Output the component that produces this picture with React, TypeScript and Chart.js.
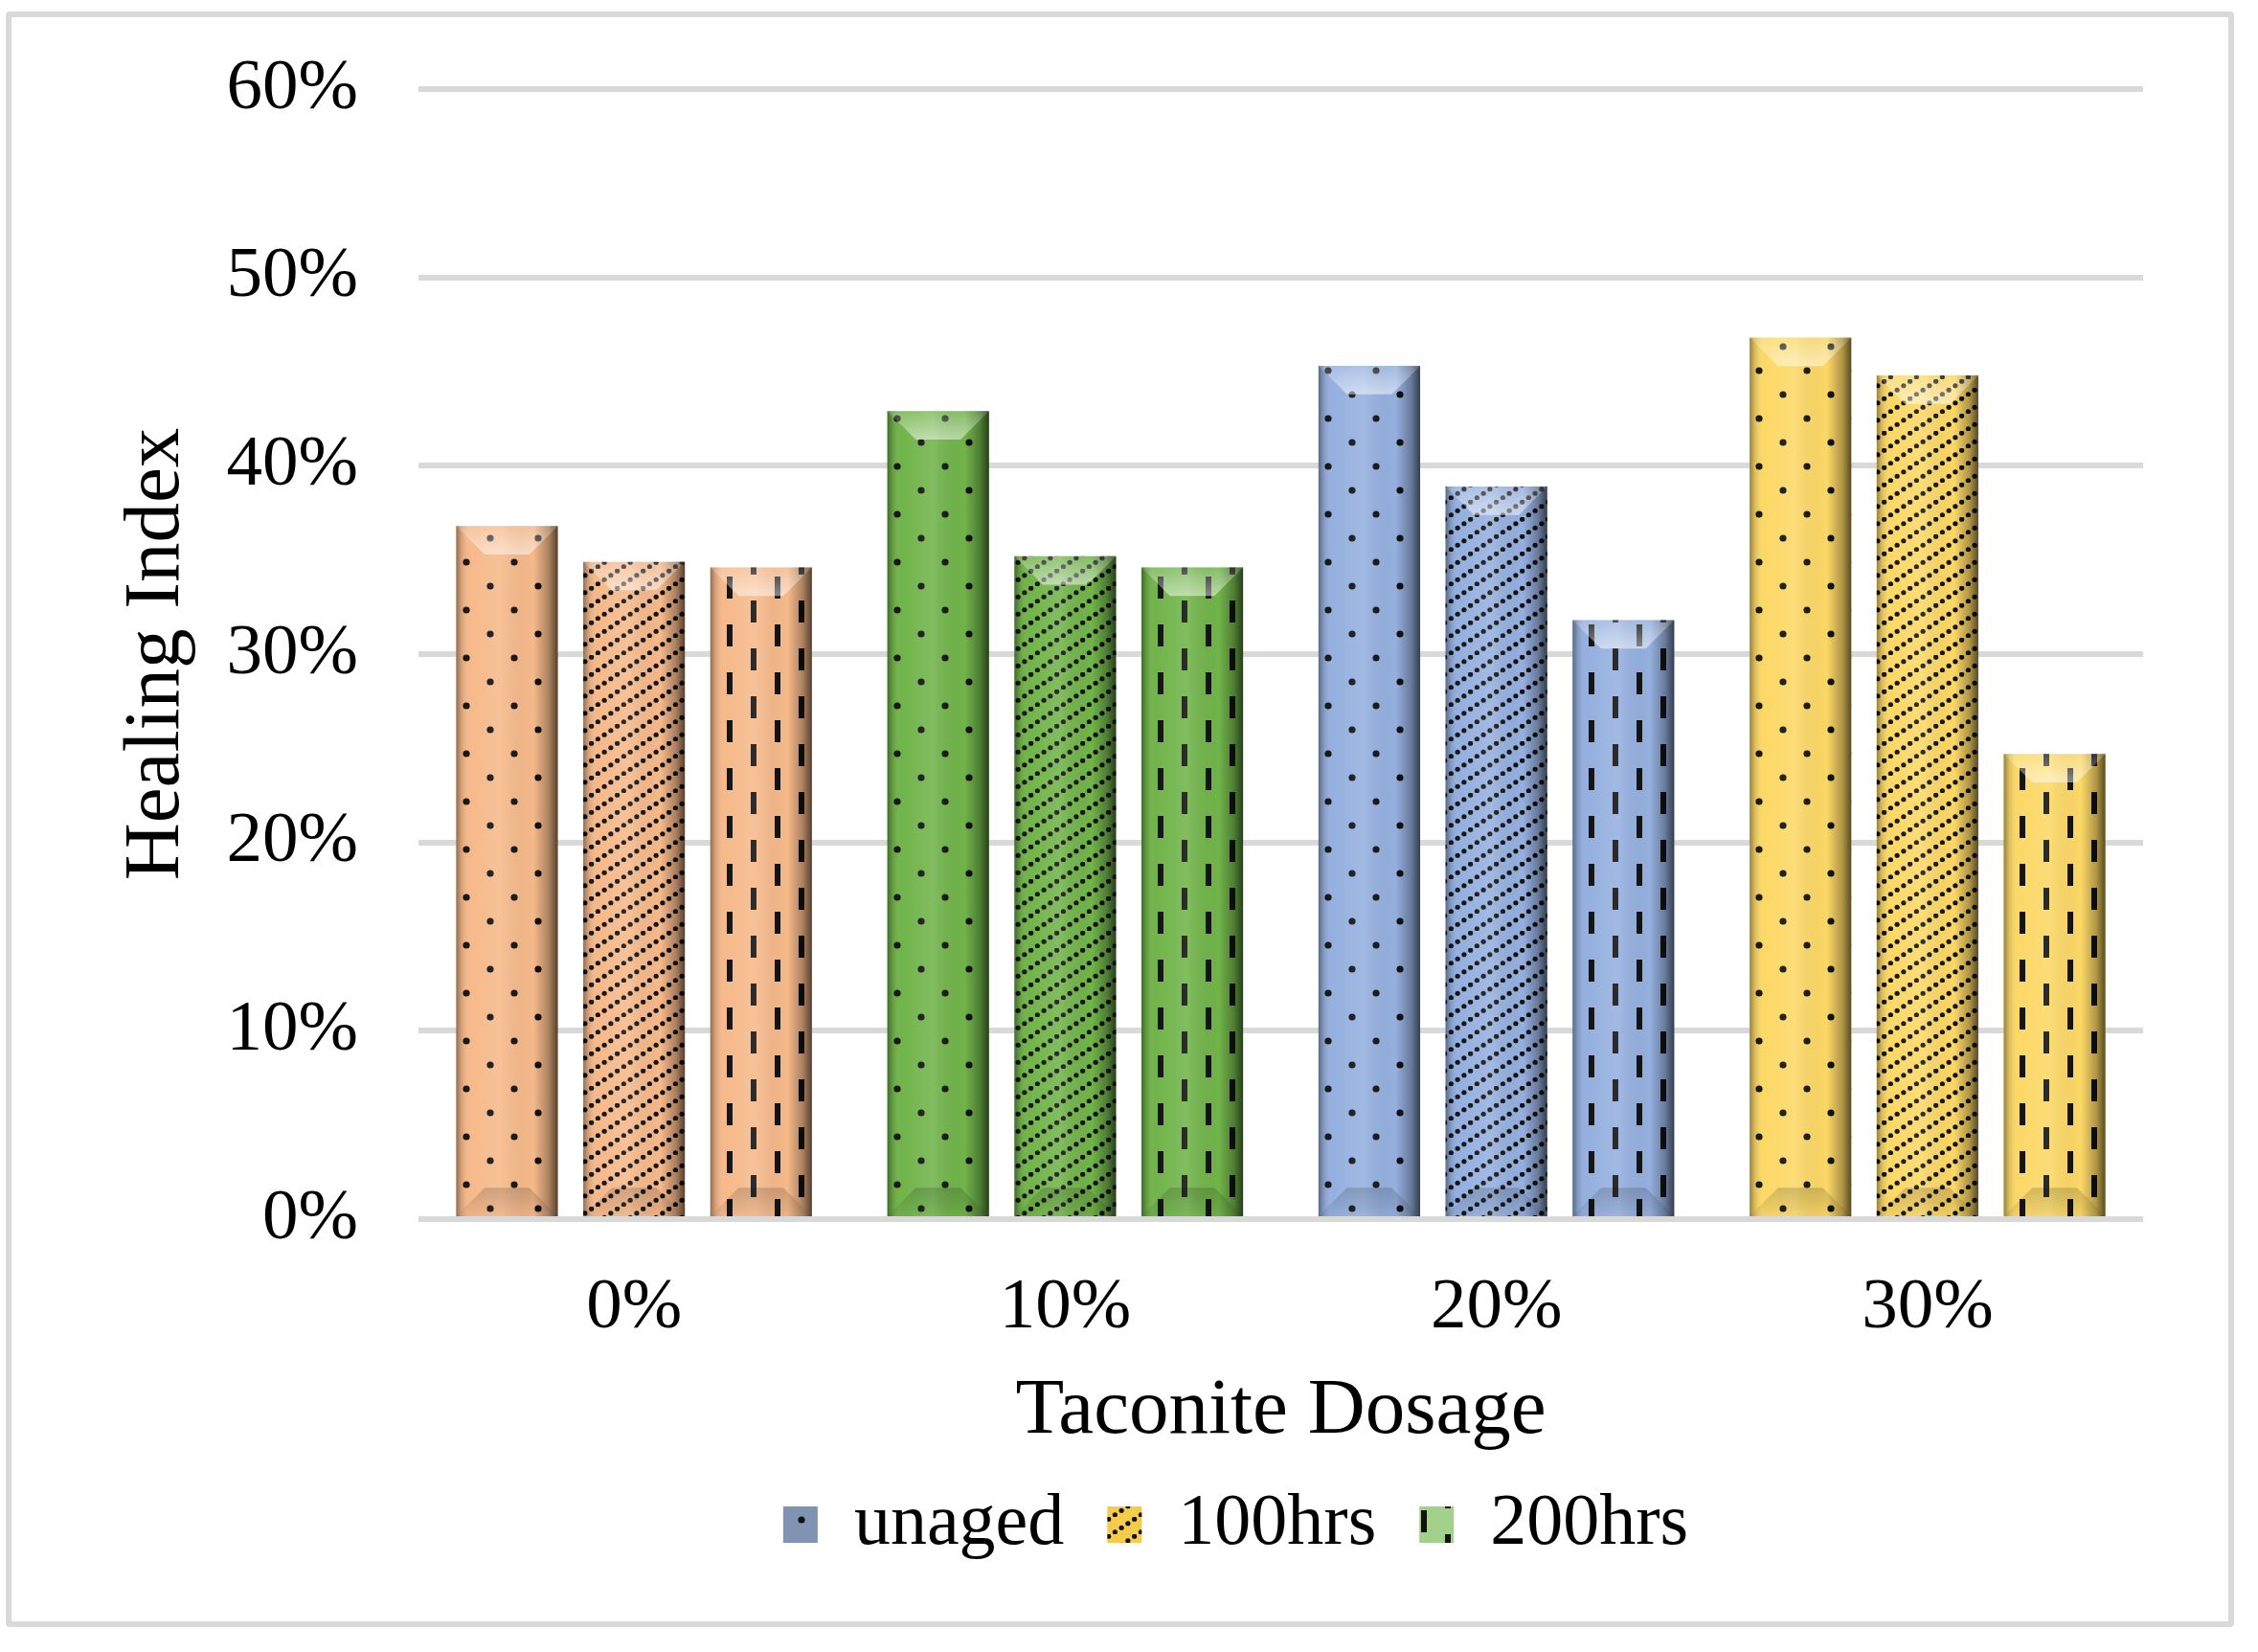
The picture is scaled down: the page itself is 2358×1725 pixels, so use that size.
import { useEffect, useRef } from "react"
import { Chart, registerables } from "chart.js"

Chart.register(...registerables)

const categories = ["0%", "10%", "20%", "30%"]
const seriesNames = ["unaged", "100hrs", "200hrs"]
const unaged = [36.8, 42.9, 45.3, 46.8]
const aged100 = [34.9, 35.2, 38.9, 44.8]
const aged200 = [34.6, 34.6, 31.8, 24.7]
const yTickLabels = ["0%", "10%", "20%", "30%", "40%", "50%", "60%"]

const categoryColors = ["#f6b98a", "#71b44a", "#95b0df", "#fcd866"]
const legendColors = ["#8093b2", "#f5cb4a", "#a3d08a"]
const patternKinds = ["dots", "diagonal", "dashes"]

const FONT = "'Liberation Serif', 'Times New Roman', serif"
const LEGEND_SHIFT = -47

function makePattern(color: string, kind: string) {
  const tile = document.createElement("canvas")
  if (kind === "diagonal") {
    tile.width = 27
    tile.height = 18
  } else {
    tile.width = 50
    tile.height = 50
  }
  const ctx = tile.getContext("2d")!
  ctx.fillStyle = color
  ctx.fillRect(0, 0, tile.width, tile.height)
  ctx.fillStyle = "#111"
  if (kind === "dots") {
    for (const [cx, cy] of [[12, 12], [37, 37]]) {
      ctx.beginPath()
      ctx.arc(cx, cy, 3.6, 0, Math.PI * 2)
      ctx.fill()
    }
  } else if (kind === "diagonal") {
    for (let i = 0; i < 4; i++) {
      const px = 3.375 + 6.75 * i
      const py = 18 - (px * 18) / 27
      ctx.beginPath()
      ctx.arc(px, py, 2.6, 0, Math.PI * 2)
      ctx.fill()
    }
  } else {
    ctx.fillRect(9, 2, 6, 23)
    ctx.fillRect(34, 27, 6, 23)
  }
  return ctx.createPattern(tile, "repeat")!
}

// shading that gives the bars their bevelled look
const bevelPlugin = {
  id: "bevel",
  afterDatasetsDraw(chart: any) {
    const ctx = chart.ctx
    chart.data.datasets.forEach((_: any, di: number) => {
      chart.getDatasetMeta(di).data.forEach((el: any) => {
        const { x, y, base, width } = el.getProps(["x", "y", "base", "width"], true)
        const l = x - width / 2
        const r = x + width / 2
        const t = Math.min(y, base)
        const b = Math.max(y, base)
        const h = b - t
        const d = Math.min(width * 0.28, h / 2)
        ctx.save()
        const g = ctx.createLinearGradient(l, 0, r, 0)
        g.addColorStop(0, "rgba(0,0,0,0.4)")
        g.addColorStop(0.05, "rgba(0,0,0,0.14)")
        g.addColorStop(0.14, "rgba(255,255,255,0)")
        g.addColorStop(0.45, "rgba(255,255,255,0.12)")
        g.addColorStop(0.76, "rgba(0,0,0,0)")
        g.addColorStop(0.91, "rgba(0,0,0,0.3)")
        g.addColorStop(1, "rgba(0,0,0,0.65)")
        ctx.fillStyle = g
        ctx.fillRect(l, t, width, h)

        const tg = ctx.createLinearGradient(0, t, 0, t + d)
        tg.addColorStop(0, "rgba(255,255,255,0.15)")
        tg.addColorStop(1, "rgba(255,255,255,0.5)")
        ctx.fillStyle = tg
        ctx.beginPath()
        ctx.moveTo(l, t)
        ctx.lineTo(r, t)
        ctx.lineTo(r - d, t + d)
        ctx.lineTo(l + d, t + d)
        ctx.closePath()
        ctx.fill()

        const bg = ctx.createLinearGradient(0, b - d, 0, b)
        bg.addColorStop(0, "rgba(0,0,0,0.16)")
        bg.addColorStop(1, "rgba(0,0,0,0.03)")
        ctx.fillStyle = bg
        ctx.beginPath()
        ctx.moveTo(l, b)
        ctx.lineTo(r, b)
        ctx.lineTo(r - d, b - d)
        ctx.lineTo(l + d, b - d)
        ctx.closePath()
        ctx.fill()
        ctx.restore()
      })
    })
  },
}

const legendShiftPlugin = {
  id: "legendShift",
  afterLayout(chart: any) {
    const lg = chart.legend
    if (!lg) return
    lg.left += LEGEND_SHIFT
    lg.right += LEGEND_SHIFT
  },
}

export default function App() {
  const chartRef = useRef<HTMLCanvasElement>(null)
  const chartInstance = useRef<Chart | null>(null)

  useEffect(() => {
    if (!chartRef.current) return
    const ctx = chartRef.current.getContext("2d")
    if (!ctx) return

    if (chartInstance.current) {
      chartInstance.current.destroy()
    }

    const seriesValues = [unaged, aged100, aged200]
    const legendPatterns = patternKinds.map((k, i) => makePattern(legendColors[i], k))

    chartInstance.current = new Chart(ctx, {
      type: "bar",
      data: {
        labels: categories,
        datasets: seriesNames.map((name, i) => ({
          label: name,
          data: seriesValues[i],
          backgroundColor: categoryColors.map((c) => makePattern(c, patternKinds[i])),
          borderWidth: 0,
        })),
      },
      options: {
        responsive: false,
        animation: false,
        layout: { padding: { left: 114, right: 120, top: 93, bottom: 85 } },
        datasets: { bar: { categoryPercentage: 0.884, barPercentage: 0.8 } },
        plugins: {
          tooltip: { enabled: false },
          legend: {
            position: "bottom",
            fullSize: false,
            labels: {
              font: { family: FONT, size: 76 },
              color: "#000",
              boxWidth: 36,
              boxHeight: 38,
              padding: 45,
              generateLabels: () =>
                seriesNames.map((name, i) => ({
                  text: name,
                  fillStyle: legendPatterns[i],
                  strokeStyle: "rgba(0,0,0,0)",
                  lineWidth: 0,
                  hidden: false,
                  datasetIndex: i,
                  fontColor: "#000",
                })),
            },
          },
        },
        scales: {
          x: {
            grid: { display: false },
            border: { display: false },
            ticks: { font: { family: FONT, size: 75 }, color: "#000", padding: 40 },
            title: {
              display: true,
              text: "Taconite Dosage",
              font: { family: FONT, size: 83 },
              color: "#000",
              padding: { top: 0, bottom: -15 },
            },
            afterFit: (scale: any) => {
              scale.height = 236
            },
          },
          y: {
            min: 0,
            max: 60,
            ticks: {
              stepSize: 10,
              callback: (_v: any, i: number) => yTickLabels[i],
              font: { family: FONT, size: 75 },
              color: "#000",
              padding: 63,
            },
            grid: { color: "#d9d9d9", lineWidth: 6, drawTicks: false },
            border: { display: false },
            title: {
              display: true,
              text: "Healing Index",
              font: { family: FONT, size: 83 },
              color: "#000",
              padding: { top: 0, bottom: 0 },
            },
            afterFit: (scale: any) => {
              scale.width = 323
              scale.paddingTop = 0
              scale.paddingBottom = 0
            },
          },
        },
      },
      plugins: [bevelPlugin, legendShiftPlugin],
    })

    return () => {
      if (chartInstance.current) {
        chartInstance.current.destroy()
        chartInstance.current = null
      }
    }
  }, [])

  return (
    <div style={{ position: "fixed", left: 0, top: 0, width: 2358, height: 1725, background: "#fff" }}>
      <div
        style={{
          position: "absolute",
          left: 6,
          top: 12,
          width: 2327,
          height: 1687,
          border: "6px solid #d9d9d9",
          borderRadius: 4,
          boxSizing: "border-box",
        }}
      />
      <canvas
        ref={chartRef}
        width={2358}
        height={1725}
        style={{ position: "absolute", left: 0, top: 0, width: 2358, height: 1725 }}
      ></canvas>
    </div>
  )
}
